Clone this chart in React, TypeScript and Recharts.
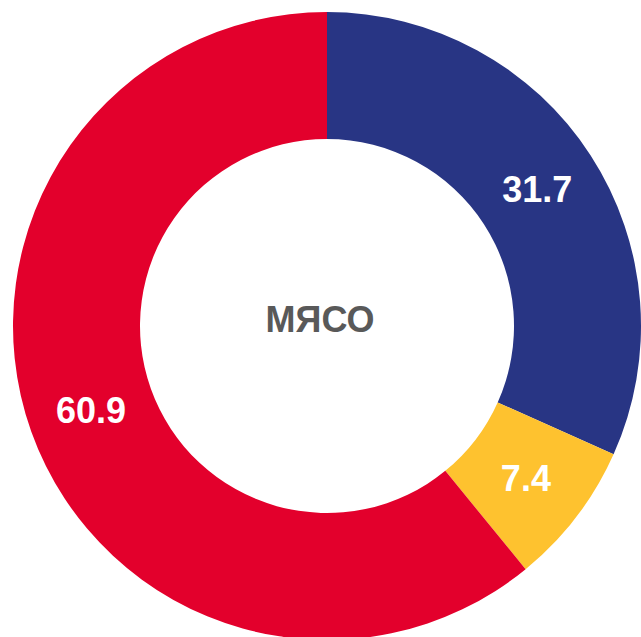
import React from "react";
import { PieChart, Pie, Cell } from "recharts";

const categories = ["A", "B", "C"];
const values = [31.7, 7.4, 60.9];
const colors = ["#283584", "#FEC22F", "#E3002C"];
const centerTitle = "МЯСО";

const data = categories.map((name, i) => ({ name, value: values[i] }));

const RADIAN = Math.PI / 180;
const renderLabel = (props: any) => {
  const { cx, cy, midAngle, innerRadius, outerRadius, value } = props;
  const r = (innerRadius + outerRadius) / 2;
  const x = cx + r * Math.cos(-midAngle * RADIAN);
  const y = cy + r * Math.sin(-midAngle * RADIAN);
  return (
    <text
      x={x}
      y={y}
      fill="#ffffff"
      textAnchor="middle"
      dominantBaseline="central"
      fontFamily="'Liberation Sans', Arial, sans-serif"
      fontWeight="bold"
      fontSize={36}
    >
      {value.toFixed(1)}
    </text>
  );
};

export default function App() {
  return (
    <div style={{ width: 641, height: 637, overflow: "hidden" }}>
      <style>{`body{margin:0;}`}</style>
      <PieChart width={641} height={637} margin={{ top: 0, right: 0, bottom: 0, left: 0 }}>
        <Pie
          data={data}
          dataKey="value"
          cx={327}
          cy={326}
          innerRadius={187}
          outerRadius={314}
          startAngle={90}
          endAngle={-270}
          stroke="none"
          label={renderLabel}
          labelLine={false}
          isAnimationActive={false}
        >
          {data.map((d, i) => (
            <Cell key={d.name} fill={colors[i]} />
          ))}
        </Pie>
        <text
          x={320}
          y={319}
          textAnchor="middle"
          dominantBaseline="central"
          fill="#595959"
          fontFamily="'Liberation Sans', Arial, sans-serif"
          fontWeight="bold"
          fontSize={36}
        >
          {centerTitle}
        </text>
      </PieChart>
    </div>
  );
}
